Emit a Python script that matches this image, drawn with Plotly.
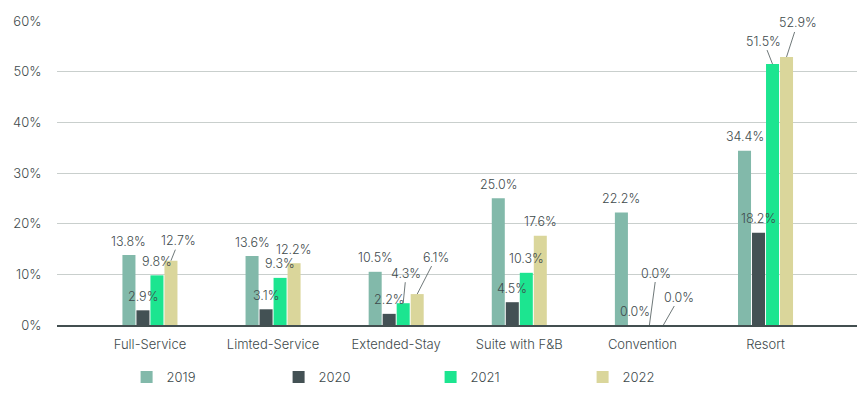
import plotly.graph_objects as go

categories = ["Full-Service", "Limted-Service", "Extended-Stay", "Suite with F&B", "Convention", "Resort"]
years = ["2019", "2020", "2021", "2022"]
v2019 = [13.8, 13.6, 10.5, 25.0, 22.2, 34.4]
v2020 = [2.9, 3.1, 2.2, 4.5, 0.0, 18.2]
v2021 = [9.8, 9.3, 4.3, 10.3, 0.0, 51.5]
v2022 = [12.7, 12.2, 6.1, 17.6, 0.0, 52.9]
colors = ["#82B9AA", "#435154", "#1CE590", "#DAD69B"]

series = [v2019, v2020, v2021, v2022]

# label offsets in pixels (ax, ay, show leader line) per (series, category)
label_offsets = {
    (3, 0): (8, -20, True),
    (2, 2): (3, -30, True),
    (3, 2): (19, -37, True),
    (2, 4): (7, -52, True),
    (3, 4): (16, -28, True),
    (2, 5): (-9, -23, True),
    (3, 5): (11, -34, True),
}

FONT = "Inter"
TXT = "#3E4A4C"
bargap = 0.545

fig = go.Figure()
for k, (yr, vals, c) in enumerate(zip(years, series, colors)):
    fig.add_trace(go.Bar(name=yr, x=categories, y=vals, marker=dict(color=c, line=dict(width=0))))

annotations = []
slot = (1 - bargap) / 4
for k, vals in enumerate(series):
    off = (k - 1.5) * slot
    for i, v in enumerate(vals):
        ax, ay, line = label_offsets.get((k, i), (0, -14, False))
        annotations.append(dict(
            x=i + off, y=v, xref="x", yref="y",
            text=f"{v:.1f}%", showarrow=True, arrowhead=0, arrowwidth=0.8,
            arrowcolor="#4A5557" if line else "rgba(0,0,0,0)",
            ax=ax, ay=ay, standoff=0,
            font=dict(family=FONT, size=12.5, color=TXT, weight=300),
        ))

fig.update_layout(
    barmode="group", bargap=bargap, bargroupgap=0.07,
    width=859, height=385,
    margin=dict(l=49, r=10, t=13, b=68, autoexpand=False),
    plot_bgcolor="white", paper_bgcolor="white",
    font=dict(family=FONT, size=13, color=TXT, weight=300),
    annotations=annotations,
    showlegend=True,
    legend=dict(orientation="h", x=0.087, y=-0.171, xanchor="left", yanchor="middle",
                entrywidth=107, entrywidthmode="pixels", font=dict(size=13, color=TXT),
                itemwidth=30, traceorder="normal", tracegroupgap=0),
    xaxis=dict(type="category", range=[-0.755, 5.743], showgrid=False,
               showline=True, linecolor="#434F50", linewidth=1.5,
               ticks="outside", ticklen=7, tickcolor="rgba(0,0,0,0)",
               tickfont=dict(size=13, color=TXT)),
    yaxis=dict(range=[0, 60], dtick=10, ticksuffix="%", showgrid=True,
               gridcolor="#C9CFCD", gridwidth=1, zeroline=False, showline=False,
               ticks="outside", ticklen=12, tickcolor="rgba(0,0,0,0)",
               tickfont=dict(size=13, color=TXT)),
)

fig.write_html("out.html")
